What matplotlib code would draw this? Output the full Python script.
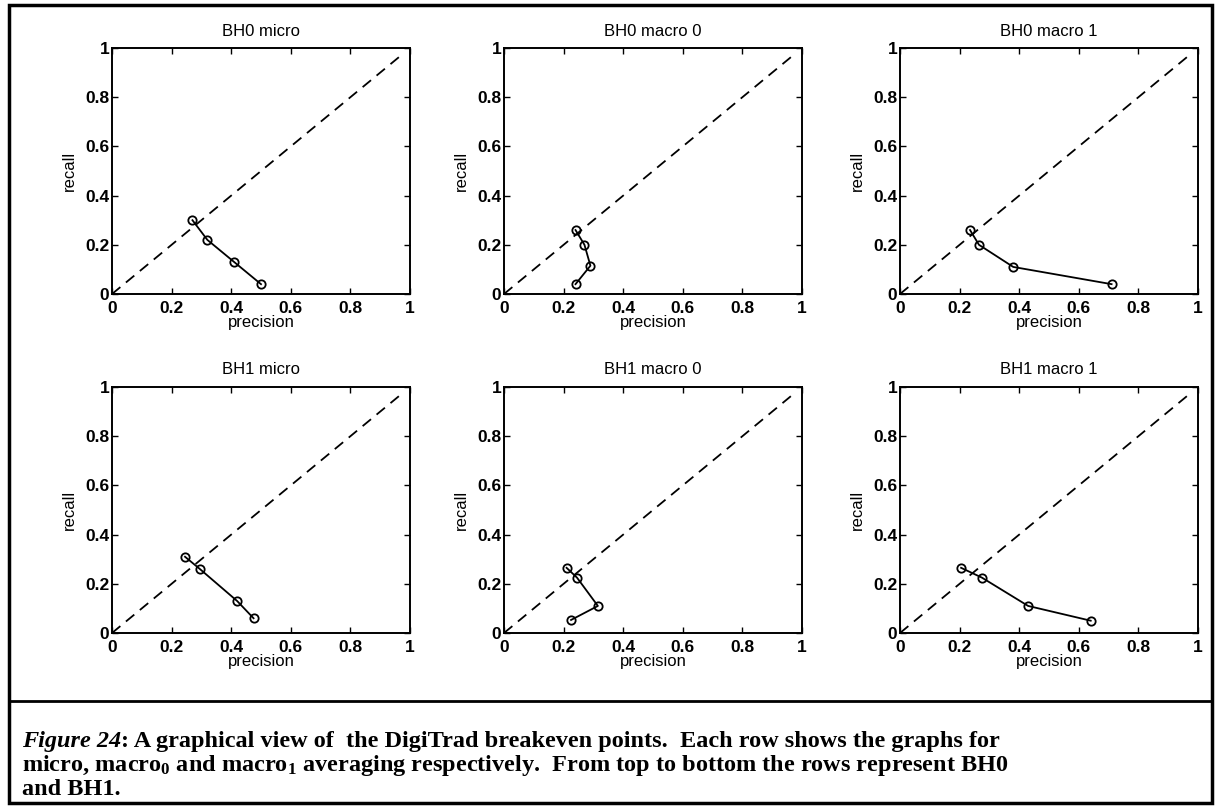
import numpy as np
import matplotlib
matplotlib.use("Agg")
import matplotlib.pyplot as plt
from matplotlib.ticker import FormatStrFormatter
from matplotlib.patches import Rectangle
from matplotlib.lines import Line2D

plt.rcParams['font.family'] = ['Liberation Sans', 'DejaVu Sans']
plt.rcParams['mathtext.fontset'] = 'custom'
plt.rcParams['mathtext.rm'] = 'Liberation Serif:bold'
plt.rcParams['mathtext.it'] = 'Liberation Serif:italic:bold'
plt.rcParams['mathtext.bf'] = 'Liberation Serif:bold'

# breakeven points (precision, recall)
titles = ["BH0 micro", "BH0 macro 0", "BH0 macro 1",
          "BH1 micro", "BH1 macro 0", "BH1 macro 1"]

bh0_micro_p = [0.27, 0.32, 0.41, 0.50]
bh0_micro_r = [0.30, 0.22, 0.13, 0.04]
bh0_macro0_p = [0.24, 0.27, 0.29, 0.24]
bh0_macro0_r = [0.26, 0.20, 0.115, 0.04]
bh0_macro1_p = [0.235, 0.265, 0.38, 0.71]
bh0_macro1_r = [0.26, 0.20, 0.11, 0.04]
bh1_micro_p = [0.245, 0.295, 0.42, 0.475]
bh1_micro_r = [0.31, 0.26, 0.13, 0.06]
bh1_macro0_p = [0.21, 0.245, 0.315, 0.225]
bh1_macro0_r = [0.265, 0.225, 0.11, 0.053]
bh1_macro1_p = [0.205, 0.275, 0.43, 0.64]
bh1_macro1_r = [0.265, 0.225, 0.11, 0.05]

diag = [0, 0.98]
ticks = [0, 0.2, 0.4, 0.6, 0.8, 1]

precision = [bh0_micro_p, bh0_macro0_p, bh0_macro1_p,
             bh1_micro_p, bh1_macro0_p, bh1_macro1_p]
recall = [bh0_micro_r, bh0_macro0_r, bh0_macro1_r,
          bh1_micro_r, bh1_macro0_r, bh1_macro1_r]

W, H = 1219, 806
fig = plt.figure(figsize=(W / 100, H / 100), dpi=100)

# axes boxes in pixels: left, top, width, height
lefts = [112, 504, 900]
tops = [48, 387]
aw, ah = 298, 246

for i in range(6):
    row, col = i // 3, i % 3
    l = lefts[col] / W
    b = 1 - (tops[row] + ah) / H
    ax = fig.add_axes([l, b, aw / W, ah / H])
    ax.plot(diag, diag, color='black', lw=1.3, linestyle=(0, (6, 4)))
    ax.plot(precision[i], recall[i], color='black', lw=1.3, marker='o',
            markersize=6, markerfacecolor='none', markeredgewidth=1.3)
    ax.set_xlim(0, 1)
    ax.set_ylim(0, 1)
    ax.set_xticks(ticks)
    ax.set_yticks(ticks)
    ax.xaxis.set_major_formatter(FormatStrFormatter('%g'))
    ax.yaxis.set_major_formatter(FormatStrFormatter('%g'))
    ax.tick_params(direction='in', length=4, width=1, top=True, right=True,
                   labelsize=12.5)
    ax.tick_params(axis='x', pad=5)
    ax.tick_params(axis='y', pad=2)
    for lab in ax.get_xticklabels() + ax.get_yticklabels():
        lab.set_fontweight('bold')
    for s in ax.spines.values():
        s.set_linewidth(1.4)
    ax.set_title(titles[i], fontsize=12, pad=9)
    ax.set_xlabel("precision", fontsize=12, labelpad=-1)
    ax.set_ylabel("recall", fontsize=12, labelpad=6)

# page frame and caption rule
fig.patches.append(Rectangle((9 / W, 1 - 803 / H), (1212 - 9) / W, (803 - 5) / H,
                             transform=fig.transFigure, fill=False,
                             edgecolor='black', lw=2.5))
fig.lines.append(Line2D([9 / W, 1212 / W], [1 - 701 / H, 1 - 701 / H],
                        transform=fig.transFigure, color='black', lw=2))

# caption, one text per line; first words in italic
cap_font = dict(fontsize=17.5, fontweight='bold',
                family=['Liberation Serif', 'DejaVu Serif'])
x0 = 22 / W
base = [747, 771, 795]
t1 = fig.text(x0, 1 - base[0] / H, "Figure 24", ha='left', va='baseline',
              style='italic', **cap_font)
plt.annotate(": A graphical view of  the DigiTrad breakeven points.  "
             "Each row shows the graphs for", xy=(1, 0), xycoords=t1,
             ha='left', va='bottom', annotation_clip=False, **cap_font)
fig.text(x0, 1 - base[1] / H,
         r"micro, macro$_0$ and macro$_1$ averaging respectively.  "
         "From top to bottom the rows represent BH0",
         ha='left', va='baseline', **cap_font)
fig.text(x0, 1 - base[2] / H, "and BH1.", ha='left', va='baseline', **cap_font)

fig.savefig("out.png", dpi=100)
